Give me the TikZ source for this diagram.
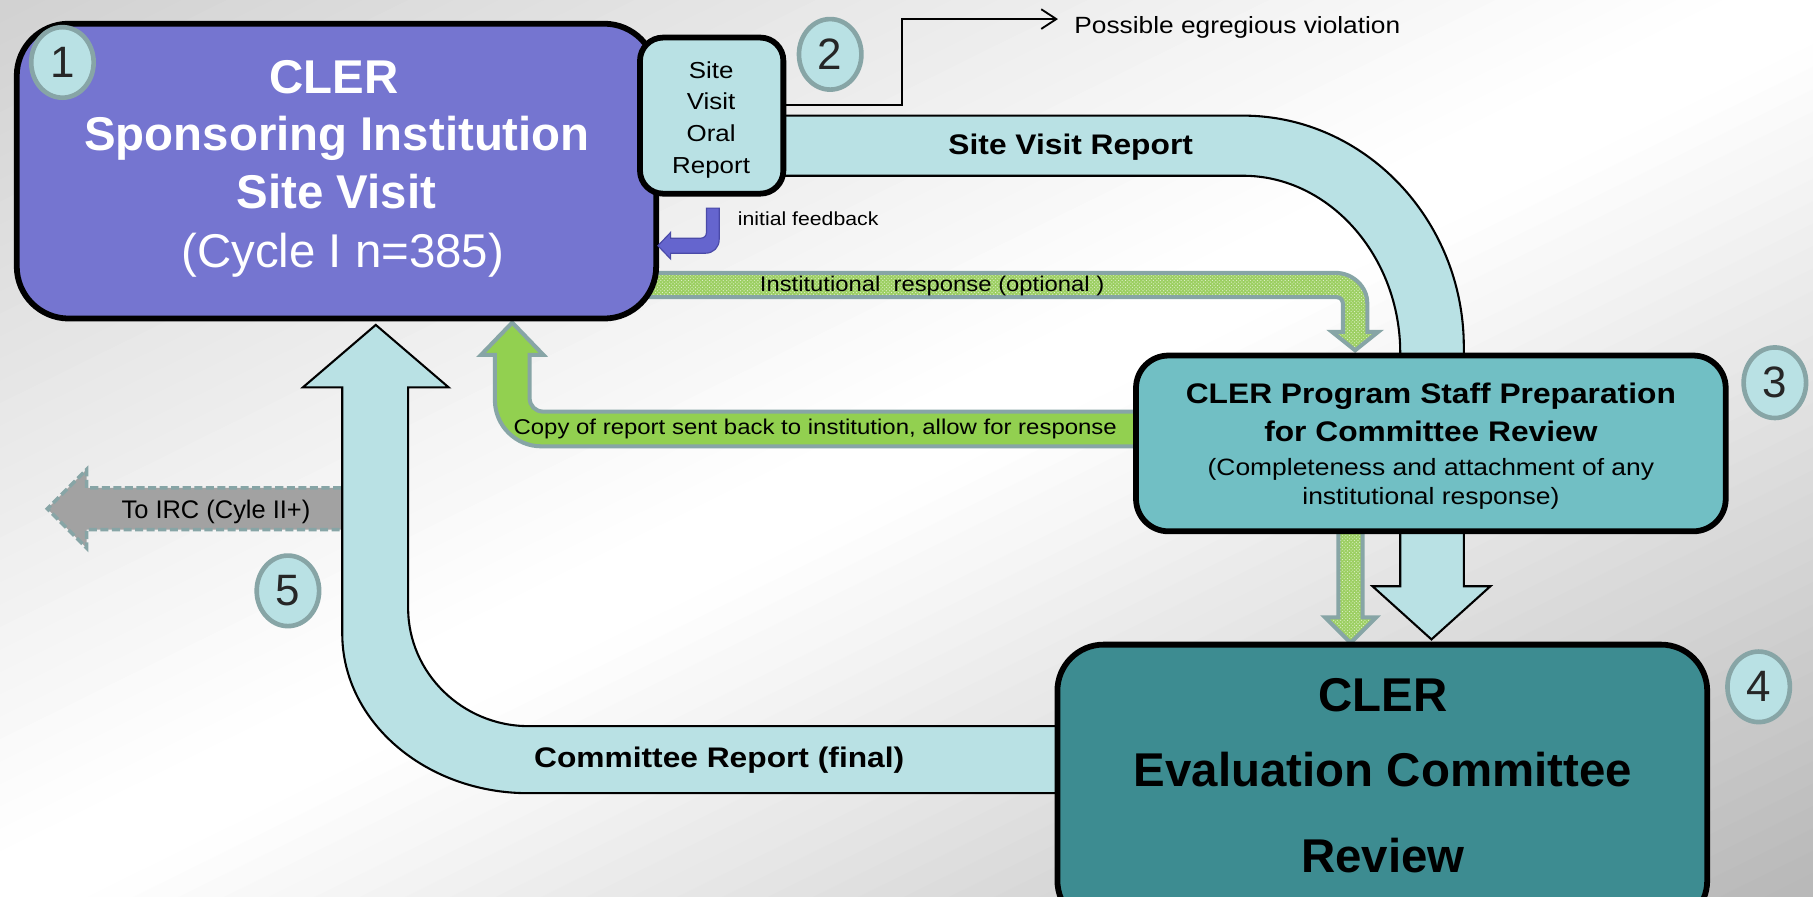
\documentclass[tikz,border=0pt]{standalone}
\usepackage{fontspec}
\setmainfont{Liberation Sans}
\newfontfamily\widefont{Liberation Sans}[FakeStretch=1.12]
\usetikzlibrary{patterns,arrows.meta,shapes.geometric}
\definecolor{purplebox}{HTML}{7575D0}
\definecolor{lightcyan}{HTML}{B9E1E4}
\definecolor{midteal}{HTML}{71BFC4}
\definecolor{darkteal}{HTML}{3D8C91}
\definecolor{ringgray}{HTML}{87A5A6}
\definecolor{greenfill}{HTML}{92D050}
\definecolor{hatchbase}{HTML}{9CCF62}
\definecolor{hatchdot}{HTML}{E4F3D2}
\definecolor{arrowgray}{HTML}{A2A2A2}
\definecolor{fbpurple}{HTML}{6565CE}
\definecolor{fbedge}{HTML}{4A4AA8}
\pgfdeclarelayer{bg}
\pgfdeclarelayer{flows}
\pgfsetlayers{bg,flows,main}
\tikzset{
  boxshape/.style={rectangle, draw=black, line width=5pt, inner sep=0pt},
  ring/.style={ellipse, draw=ringgray, line width=4pt, fill=lightcyan, minimum width=54pt, minimum height=61pt, inner sep=0pt, font=\fontsize{38}{38}\selectfont, text=black!85},
  band/.style={fill=lightcyan, draw=black, line width=1.8pt, line join=miter},
  greenband/.style={fill=greenfill, draw=ringgray, line width=3.5pt, line join=miter},
  hatchband/.style={preaction={fill=hatchbase}, pattern=crosshatch dots, pattern color=hatchdot, draw=ringgray, line width=3.5pt, line join=miter},
  grayband/.style={fill=arrowgray, draw=ringgray, line width=3pt, dash pattern=on 7pt off 3pt, line join=miter},
  fbarrow/.style={fill=fbpurple, draw=fbedge, line width=1pt, line join=miter},
  thinconn/.style={draw=black, line width=1.6pt, -{Straight Barb[length=13pt,width=17pt,line width=1.6pt]}},
  lbl/.style={anchor=base, inner sep=0pt},
  bigw/.style={lbl, text=white, font=\fontsize{41}{41}\selectfont\bfseries},
  bigb/.style={lbl, text=black, font=\fontsize{41}{41}\selectfont\bfseries},
  midb/.style={lbl, text=black, font=\widefont\fontsize{24.5}{24.5}\selectfont\bfseries},
  midn/.style={lbl, text=black, font=\widefont\fontsize{20.4}{20.4}\selectfont},
  smalln/.style={lbl, text=black, font=\widefont\fontsize{20}{20}\selectfont},
}
\begin{document}
\begin{tikzpicture}[x=1pt,y=-1pt]
\useasboundingbox (0,0) rectangle (1568,775);
\begin{pgfonlayer}{bg}
  \clip (0,0) rectangle (1568,775);
  \foreach \i in {0,...,79} {
    \pgfmathsetmacro{\sa}{\i*0.025}
    \pgfmathsetmacro{\sb}{\sa+0.027}
    \pgfmathsetmacro{\sm}{\sa+0.0125}
    \pgfmathsetmacro{\gv}{\sm<0.95 ? 18*(1-\sm/0.95) : (\sm<1.05 ? 0 : 28*(\sm-1.05)/0.95)}
    \fill[black!\gv] (\sa*1568,0) -- (\sb*1568,0) -- (0,\sb*775) -- (0,\sa*775) -- cycle;
  }
\end{pgfonlayer}

% ---- boxes
\node[boxshape, fill=purplebox, minimum width=553pt, minimum height=255pt, rounded corners=45pt] (box1) at (291,148) {};
\node[boxshape, fill=lightcyan, minimum width=124pt, minimum height=135pt, rounded corners=20pt] (box2) at (615.5,100) {};
\node[boxshape, fill=midteal, minimum width=510pt, minimum height=152pt, rounded corners=28pt] (box3) at (1237.5,383.5) {};
\begin{scope}
  \clip (0,0) rectangle (1568,775);
  \node[boxshape, fill=darkteal, minimum width=562pt, minimum height=244pt, rounded corners=40pt] (box4) at (1195.5,679.5) {};
\end{scope}

% ---- flows (block arrows) behind the boxes
\begin{pgfonlayer}{flows}
  \clip (0,0) rectangle (1568,775);
  % to IRC
  \path[grayband] (305,422) -- (75,422) -- (75,406) -- (41,440) -- (75,474) -- (75,458) -- (305,458);
  % committee report (final)
  \path[band] (930,628) -- (457,628) .. controls (400,628) and (353,582) .. (353,526)
     -- (353,335) -- (388,335) -- (325,281) -- (262,335) -- (296,335) -- (296,548)
     .. controls (296,624) and (368,686) .. (457,686) -- (930,686) -- cycle;
  % site visit report
  \path[band] (670,100) -- (1075,100) .. controls (1180,100) and (1266,190) .. (1266,300)
     -- (1266,507) -- (1289,507) -- (1238,553) -- (1187,507) -- (1211,507) -- (1211,305)
     .. controls (1211,222) and (1150,152) .. (1075,152) -- (670,152) -- cycle;
  % copy of report sent back
  \path[greenband] (990,356) -- (470,356) .. controls (463,356) and (458,351) .. (458,344)
     -- (458,307) -- (470,307) -- (443,279) -- (416,307) -- (428,307) -- (428,346)
     .. controls (428,368) and (446,386) .. (468,386) -- (990,386) -- cycle;
  % institutional response
  \path[hatchband] (560,236) -- (1155,236) .. controls (1170,236) and (1182.5,248) .. (1182.5,262)
     -- (1182.5,287) -- (1192,287) -- (1172,303) -- (1152,287) -- (1161.5,287) -- (1161.5,264)
     .. controls (1161.5,260) and (1160,257) .. (1156,257) -- (560,257) -- cycle;
  % staff -> committee
  \path[hatchband] (1157.5,455) -- (1157.5,534) -- (1146,534) -- (1168,556) -- (1190,534) -- (1178.5,534) -- (1178.5,455) -- cycle;
\end{pgfonlayer}

% ---- texts in boxes
\node[bigw] (t1a) at (289,81) {CLER};
\node[bigw] (t1b) at (291.5,130) {Sponsoring Institution};
\node[bigw] (t1c) at (291,180) {Site Visit};
\node[bigw, font=\fontsize{41}{41}\selectfont] (t1d) at (296.5,231) {(Cycle I n=385)};

\node[smalln] (t2a) at (615,67.5) {Site};
\node[smalln] (t2b) at (615,95) {Visit};
\node[smalln] (t2c) at (615,122.5) {Oral};
\node[smalln] (t2d) at (615,150) {Report};

\node[midb] (t3a) at (1237.5,349) {CLER Program Staff Preparation};
\node[midb] (t3b) at (1237.5,381.5) {for Committee Review};
\node[midn] (t3c) at (1237.5,411) {(Completeness and attachment of any};
\node[midn] (t3d) at (1237.5,436) {institutional response)};

\node[bigb] (t4a) at (1196,615.5) {CLER};
\node[bigb] (t4b) at (1196,680) {Evaluation Committee};
\node[bigb] (t4c) at (1196,755) {Review};

% ---- flow labels
\node[lbl, anchor=base west, font=\widefont\fontsize{20.3}{20.3}\selectfont] (pev) at (929,28.8) {Possible egregious violation};
\node[midb] (svr) at (926,134) {Site Visit Report};
\node[midb] (crf) at (622,664) {Committee Report (final)};
\node[lbl, anchor=base west, font=\widefont\fontsize{16.4}{16.4}\selectfont] (ifb) at (638,194.6) {initial feedback};
\node[lbl, anchor=base west, font=\widefont\fontsize{18.4}{18.4}\selectfont] (irs) at (657,252.3) {Institutional\ \ response (optional )};
\node[lbl, anchor=base west, font=\widefont\fontsize{18.5}{18.5}\selectfont] (cpy) at (444,376) {Copy of report sent back to institution, allow for response};
\node[lbl, anchor=base west, font=\fontsize{22}{22}\selectfont] (irc) at (105,448) {To IRC (Cyle II+)};

% ---- thin connector and feedback arrow
\coordinate (pvy) at (0,91);
\draw[thinconn] (box2.east |- pvy) -- (780,91) -- (780,16.5) -- (915,16.5);
\path[fbarrow] (611,180) -- (622,180) -- (622,207) .. controls (622,214) and (617,219) .. (610,219)
   -- (580,219) -- (580,224) -- (569,212.5) -- (580,201) -- (580,206) -- (606,206)
   .. controls (609,206) and (611,204) .. (611,201) -- cycle;

% ---- step numbers
\node[ring] (n1) at (54,54) {1};
\node[ring] (n2) at (718,47) {2};
\node[ring] (n3) at (1535,331) {3};
\node[ring] (n4) at (1521,594) {4};
\node[ring] (n5) at (249,511) {5};
\end{tikzpicture}
\end{document}
